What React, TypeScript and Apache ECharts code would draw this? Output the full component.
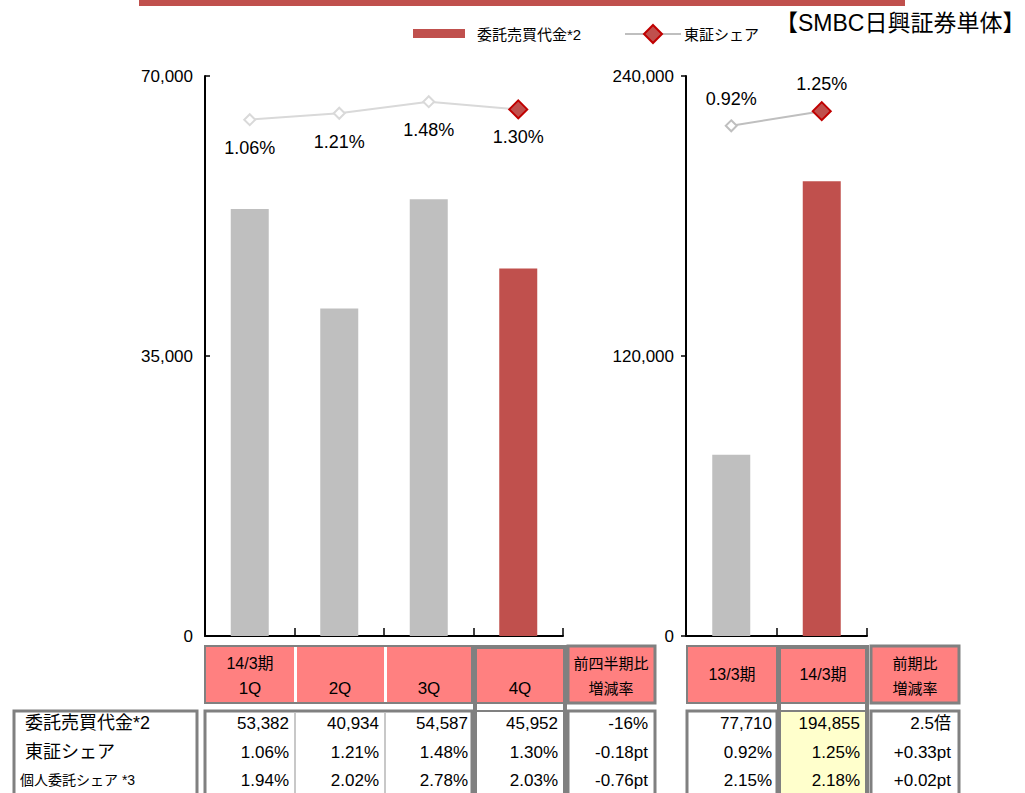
import React, { useEffect, useRef } from 'react';
import * as echarts from 'echarts';

// ---- data ----
const quarterCategories = ['1Q', '2Q', '3Q', '4Q'];
const quarterPeriodLabel = '14/3期';
const quarterTradingValue = [53382, 40934, 54587, 45952];
const quarterTseShare = [1.06, 1.21, 1.48, 1.3];
const quarterRetailShare = [1.94, 2.02, 2.78, 2.03];
const quarterChange = ['-16%', '-0.18pt', '-0.76pt'];
const quarterChangeHeader = ['前四半期比', '増減率'];

const yearCategories = ['13/3期', '14/3期'];
const yearTradingValue = [77710, 194855];
const yearTseShare = [0.92, 1.25];
const yearRetailShare = [2.15, 2.18];
const yearChange = ['2.5倍', '+0.33pt', '+0.02pt'];
const yearChangeHeader = ['前期比', '増減率'];

const rowLabels = ['委託売買代金*2', '東証シェア', '個人委託シェア *3'];
const seriesNames = ['委託売買代金*2', '東証シェア'];
const titleText = '【SMBC日興証券単体】';

const quarterAxis = { min: 0, max: 70000, interval: 35000 };
const yearAxis = { min: 0, max: 240000, interval: 120000 };

// ---- styles ----
const FONT = '"Liberation Sans", Arial, "Noto Sans CJK JP", sans-serif';
const GRAY = '#BFBFBF';
const RED = '#C0504D';
const DARKRED = '#C00000';
const PINK = '#FF8080';
const BORDER = '#808080';
const YELLOW = '#FFFFCC';

const fmtNum = (v: number) => v.toLocaleString('en-US');
const fmtPct = (v: number) => v.toFixed(2) + '%';

const rect = (x: number, y: number, w: number, h: number, fill: string | null, stroke?: string, lw?: number) => ({
  type: 'rect',
  silent: true,
  shape: { x, y, width: w, height: h },
  style: { fill: fill || 'none', stroke: stroke || 'none', lineWidth: lw || 0 },
});

const txt = (x: number, y: number, t: string, size: number, align = 'center', extra: any = {}) => ({
  type: 'text',
  silent: true,
  x,
  y,
  style: { text: t, fontSize: size, fontFamily: FONT, fill: '#000', align, verticalAlign: 'middle', ...extra },
});

function buildGraphic() {
  const g: any[] = [];
  // top bar
  g.push(rect(139, 0, 766, 6, RED));
  // legend
  g.push(rect(413, 29, 52, 9, RED));
  g.push(txt(477, 34, seriesNames[0], 15, 'left'));
  g.push({ type: 'line', silent: true, shape: { x1: 625, y1: 34, x2: 681, y2: 34 }, style: { stroke: GRAY, lineWidth: 2 } });
  g.push({
    type: 'polygon',
    silent: true,
    shape: { points: [[653, 25], [662, 34], [653, 43], [644, 34]] },
    style: { fill: RED, stroke: DARKRED, lineWidth: 2 },
  });
  g.push(txt(684, 34, seriesNames[1], 15, 'left'));
  g.push(txt(775, 23, titleText, 23, 'left'));

  // header cells
  const hy = 646, hh = 57;
  g.push(rect(205, hy, 267, hh, PINK, BORDER, 2));
  g.push(rect(294, hy + 1, 3, hh - 2, '#fff'));
  g.push(rect(384, hy + 1, 3, hh - 2, '#fff'));
  g.push(rect(475, hy, 90, hh, PINK, BORDER, 2));
  g.push(rect(568, hy, 87, hh, PINK, BORDER, 3));
  g.push(rect(687, hy, 90, hh, PINK, BORDER, 2));
  g.push(rect(779, hy, 88, hh, PINK, BORDER, 2));
  g.push(rect(871, hy, 88, hh, PINK, BORDER, 3));

  // data cells
  const dy = 711, dh = 95;
  g.push(rect(14, dy, 183, dh, '#fff', BORDER, 3));
  g.push(rect(205, dy, 267, dh, '#fff', BORDER, 3));
  g.push(rect(294, dy + 2, 2, dh, '#C8C8C8'));
  g.push(rect(384, dy + 2, 2, dh, '#C8C8C8'));
  g.push(rect(475, dy, 90, dh, '#fff', BORDER, 2));
  g.push(rect(568, dy, 87, dh, '#fff', BORDER, 3));
  g.push(rect(687, dy, 90, dh, '#fff', BORDER, 3));
  g.push(rect(779, dy, 88, dh, YELLOW, BORDER, 2));
  g.push(rect(871, dy, 88, dh, '#fff', BORDER, 3));

  // thick highlight outlines
  g.push(rect(475, 647, 90, 160, null, BORDER, 4));
  g.push(rect(779, 647, 88, 160, null, BORDER, 4));

  // header texts
  const qCenters = [250, 340, 429, 520];
  g.push(txt(qCenters[0], 663, quarterPeriodLabel, 16));
  quarterCategories.forEach((c, i) => g.push(txt(qCenters[i], 688, c, 17)));
  g.push(txt(611, 663, quarterChangeHeader[0], 15));
  g.push(txt(611, 688, quarterChangeHeader[1], 15));
  g.push(txt(732, 674, yearCategories[0], 16));
  g.push(txt(823, 674, yearCategories[1], 16));
  g.push(txt(915, 663, yearChangeHeader[0], 15));
  g.push(txt(915, 688, yearChangeHeader[1], 15));

  // row labels
  const rowY = [723, 752, 780];
  g.push(txt(25, rowY[0], rowLabels[0], 18, 'left'));
  g.push(txt(25, rowY[1], rowLabels[1], 18, 'left'));
  g.push(txt(20, rowY[2], rowLabels[2], 14, 'left'));

  // data values
  const qRight = [289, 379, 468, 558];
  const rows = [quarterTradingValue.map(fmtNum), quarterTseShare.map(fmtPct), quarterRetailShare.map(fmtPct)];
  rows.forEach((r, ri) => r.forEach((v, ci) => g.push(txt(qRight[ci], rowY[ri], v, 17, 'right'))));
  quarterChange.forEach((v, ri) => g.push(txt(648, rowY[ri], v, 17, 'right')));
  const yRight = [772, 860];
  const yrows = [yearTradingValue.map(fmtNum), yearTseShare.map(fmtPct), yearRetailShare.map(fmtPct)];
  yrows.forEach((r, ri) => r.forEach((v, ci) => g.push(txt(yRight[ci], rowY[ri], v, 17, 'right'))));
  yearChange.forEach((v, ri) => g.push(txt(951, rowY[ri], v, 17, 'right')));
  return g;
}

const valueAxis = (gridIndex: number, cfg: any, tickInside: boolean) => ({
  type: 'value',
  gridIndex,
  min: cfg.min,
  max: cfg.max,
  interval: cfg.interval,
  axisLine: { show: true, lineStyle: { color: '#000', width: 2 } },
  axisTick: { show: true, inside: tickInside, length: 5, lineStyle: { color: '#000', width: 1.5 } },
  axisLabel: { color: '#000', fontSize: 17, fontFamily: FONT, margin: 12, formatter: (v: number) => fmtNum(v) },
  splitLine: { show: false },
});

const hiddenAxis = (gridIndex: number, min: number, max: number) => ({
  type: 'value',
  gridIndex,
  min,
  max,
  show: false,
  splitLine: { show: false },
});

const catAxis = (gridIndex: number, data: string[]) => ({
  type: 'category',
  gridIndex,
  data,
  axisLine: { show: true, lineStyle: { color: '#000', width: 2 } },
  axisTick: { show: true, inside: true, length: 8, lineStyle: { color: '#000', width: 1.5 } },
  axisLabel: { show: false },
  splitLine: { show: false },
});

const barData = (vals: number[]) =>
  vals.map((v, i) => ({ value: v, itemStyle: { color: i === vals.length - 1 ? RED : GRAY } }));

const lineData = (vals: number[], lineColor: string, hollowDist: number, redDist: number) =>
  vals.map((v, i) => {
    const last = i === vals.length - 1;
    return {
      value: v,
      symbolSize: last ? 18 : 11,
      itemStyle: last
        ? { color: RED, borderColor: DARKRED, borderWidth: 2 }
        : { color: '#fff', borderColor: lineColor, borderWidth: 2 },
      label: { distance: last ? redDist : hollowDist },
    };
  });

export default function App() {
  const ref = useRef<HTMLDivElement>(null);
  useEffect(() => {
    if (!ref.current) return;
    const chart = echarts.init(ref.current, null, { renderer: 'svg' });
    chart.setOption({
      animation: false,
      backgroundColor: '#fff',
      textStyle: { fontFamily: FONT },
      grid: [
        { left: 205, top: 76, width: 358, height: 560 },
        { left: 686, top: 76, width: 181, height: 560 },
      ],
      xAxis: [catAxis(0, quarterCategories), catAxis(1, yearCategories)],
      yAxis: [
        valueAxis(0, quarterAxis, true),
        hiddenAxis(0, -11, 2.08),
        valueAxis(1, yearAxis, false),
        hiddenAxis(1, -10.55, 2.04),
      ],
      series: [
        {
          name: seriesNames[0],
          type: 'bar',
          xAxisIndex: 0,
          yAxisIndex: 0,
          barWidth: 38,
          itemStyle: { color: RED },
          data: barData(quarterTradingValue),
        },
        {
          name: seriesNames[1],
          type: 'line',
          xAxisIndex: 0,
          yAxisIndex: 1,
          symbol: 'diamond',
          lineStyle: { color: '#D9D9D9', width: 2 },
          label: {
            show: true,
            position: 'bottom',
            fontSize: 18,
            color: '#000',
            fontFamily: FONT,
            formatter: (p: any) => fmtPct(p.value),
          },
          data: lineData(quarterTseShare, '#D9D9D9', 13, 9),
        },
        {
          name: seriesNames[0],
          type: 'bar',
          xAxisIndex: 1,
          yAxisIndex: 2,
          barWidth: 38,
          itemStyle: { color: RED },
          data: barData(yearTradingValue),
        },
        {
          name: seriesNames[1],
          type: 'line',
          xAxisIndex: 1,
          yAxisIndex: 3,
          symbol: 'diamond',
          lineStyle: { color: GRAY, width: 2 },
          label: {
            show: true,
            position: 'top',
            fontSize: 18,
            color: '#000',
            fontFamily: FONT,
            formatter: (p: any) => fmtPct(p.value),
          },
          data: lineData(yearTseShare, GRAY, 11, 8),
        },
      ],
      graphic: buildGraphic(),
    });
    return () => chart.dispose();
  }, []);
  return <div ref={ref} style={{ position: 'absolute', left: 0, top: 0, width: 1025, height: 793 }} />;
}
